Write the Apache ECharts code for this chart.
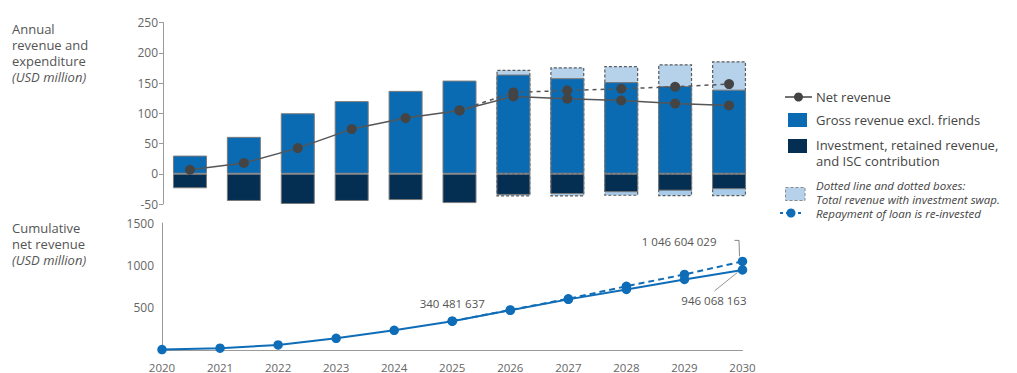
<!DOCTYPE html>
<html>
<head>
<meta charset="utf-8">
<script src="https://cdn.jsdelivr.net/npm/echarts@6/dist/echarts.min.js"></script>
<style>
  html, body { margin: 0; padding: 0; background: #ffffff; }
  #chart { width: 1017px; height: 373px; }
</style>
</head>
<body>
<div id="chart"></div>
<script>
// Years on both panels
const years = ['2020', '2021', '2022', '2023', '2024', '2025', '2026', '2027', '2028', '2029', '2030'];

// Annual panel (USD million)
const grossRevenue = [30, 61, 100, 120, 137, 154, 164, 158, 151.5, 145, 139];
const investment = [-24, -45, -50, -45, -43.5, -48.5, -35, -33.5, -30.5, -28, -25.5];
const swapRevenueTop = [null, null, null, null, null, null, 172, 176, 178, 181, 186];
const swapRevenueBottom = [null, null, null, null, null, null, -37.5, -37.5, -36.5, -37, -37];
const netRevenue = [6.6, 17.7, 42.4, 73.8, 92, 104.7, 127.8, 124, 121, 116, 112.9];
const netRevenueSwap = [null, null, null, null, null, 104.7, 134.4, 137.7, 140.5, 143.8, 148.2];

// Cumulative panel (USD million)
const cumulativeNet = [5, 22, 60, 138, 232, 340.481637, 469, 598, 715, 833, 946.068163];
const cumulativeNetSwap = [null, null, null, null, null, 340.481637, 473, 605, 753, 892, 1046.604029];

// Axis ticks
const annualTicks = { min: -50, max: 250, step: 50 };
const cumulativeTicks = { min: 0, max: 1500, step: 500 };

const FONT = 'Open Sans';
const BLUE = '#0b6bb2';
const NAVY = '#052f52';
const LIGHT = '#b5d2ea';
const LINE_BLUE = '#0f6db8';
const GREY_DOT = '#444444';
const TEXT = '#555555';

const chart = echarts.init(document.getElementById('chart'), null, { renderer: 'svg' });

// Format a value in millions as a full number with spaces between digit groups
function fullAmount(v) {
  return String(Math.round(v * 1e6)).replace(/\B(?=(\d{3})+(?!\d))/g, ' ');
}

const axisLabelStyle = { color: '#666666', fontFamily: FONT, fontSize: 12 };

chart.setOption({
  animation: false,
  textStyle: { fontFamily: FONT },
  grid: [
    { left: 163, right: 261, top: 22.5, bottom: 169, containLabel: false },
    { left: 162, right: 274.5, top: 223, bottom: 20, containLabel: false }
  ],
  xAxis: [
    {
      gridIndex: 0, type: 'category', data: years, boundaryGap: true,
      axisLine: { show: false }, axisTick: { show: false }, axisLabel: { show: false }, splitLine: { show: false }
    },
    {
      gridIndex: 1, type: 'category', data: years, boundaryGap: false,
      axisLine: { show: true, lineStyle: { color: '#9a9a9a', width: 1 } },
      axisTick: { show: false },
      axisLabel: { color: '#666666', fontFamily: FONT, fontSize: 11.5, margin: 11 },
      splitLine: { show: false }
    }
  ],
  yAxis: [
    {
      gridIndex: 0, type: 'value', min: annualTicks.min, max: annualTicks.max, interval: annualTicks.step,
      axisLine: { show: true, lineStyle: { color: '#9a9a9a', width: 1 } },
      axisTick: { show: true, length: 4, lineStyle: { color: '#9a9a9a' } },
      axisLabel: Object.assign({ margin: 5, formatter: v => String(v) }, axisLabelStyle),
      splitLine: { show: false }
    },
    {
      gridIndex: 1, type: 'value', min: cumulativeTicks.min, max: cumulativeTicks.max, interval: cumulativeTicks.step,
      axisLine: { show: true, lineStyle: { color: '#9a9a9a', width: 1 } },
      axisTick: { show: false },
      axisLabel: Object.assign({ margin: 8, showMinLabel: false, formatter: v => String(v) }, axisLabelStyle),
      splitLine: { show: false }
    }
  ],
  series: [
    {
      name: 'Total revenue with investment swap', type: 'bar', xAxisIndex: 0, yAxisIndex: 0,
      stack: 'swap', barWidth: 34, barGap: '-100%', data: swapRevenueTop,
      itemStyle: { color: LIGHT, borderColor: '#5c5c5c', borderWidth: 1.2, borderType: [3, 2] }
    },
    {
      name: 'Swap expenditure', type: 'bar', xAxisIndex: 0, yAxisIndex: 0,
      stack: 'swap', barWidth: 34, barGap: '-100%', data: swapRevenueBottom,
      itemStyle: { color: '#a7cbe8', borderColor: '#5c5c5c', borderWidth: 1.2, borderType: [3, 2] }
    },
    {
      name: 'Gross revenue excl. friends', type: 'bar', xAxisIndex: 0, yAxisIndex: 0,
      stack: 'base', barWidth: 34, barGap: '-100%', data: grossRevenue,
      itemStyle: { color: BLUE, borderColor: '#7a7a7a', borderWidth: 1 }
    },
    {
      name: 'Investment, retained revenue, and ISC contribution', type: 'bar', xAxisIndex: 0, yAxisIndex: 0,
      stack: 'base', barWidth: 34, barGap: '-100%', data: investment,
      itemStyle: { color: NAVY, borderColor: '#7a7a7a', borderWidth: 1 }
    },
    {
      name: 'Net revenue with swap', type: 'line', xAxisIndex: 0, yAxisIndex: 0, z: 5,
      data: netRevenueSwap, symbol: 'circle', symbolSize: 10, showSymbol: true,
      lineStyle: { color: '#555555', width: 1.5, type: [4, 4] },
      itemStyle: { color: GREY_DOT }
    },
    {
      name: 'Net revenue', type: 'line', xAxisIndex: 0, yAxisIndex: 0, z: 6,
      data: netRevenue, symbol: 'circle', symbolSize: 10,
      lineStyle: { color: '#555555', width: 1.5 },
      itemStyle: { color: GREY_DOT }
    },
    {
      name: 'Cumulative net revenue with swap', type: 'line', xAxisIndex: 1, yAxisIndex: 1, z: 5,
      data: cumulativeNetSwap, symbol: 'circle', symbolSize: 9.5,
      lineStyle: { color: LINE_BLUE, width: 2, type: [6, 4] },
      itemStyle: { color: LINE_BLUE }
    },
    {
      name: 'Cumulative net revenue', type: 'line', xAxisIndex: 1, yAxisIndex: 1, z: 6,
      data: cumulativeNet, symbol: 'circle', symbolSize: 9.5,
      lineStyle: { color: LINE_BLUE, width: 2 },
      itemStyle: { color: LINE_BLUE }
    }
  ]
});

// Callouts positioned from the plotted points
const last = years.length - 1;
const mid = 5;
const pSwapEnd = chart.convertToPixel({ xAxisIndex: 1, yAxisIndex: 1 }, [last, cumulativeNetSwap[last]]);
const pNetEnd = chart.convertToPixel({ xAxisIndex: 1, yAxisIndex: 1 }, [last, cumulativeNet[last]]);
const pMid = chart.convertToPixel({ xAxisIndex: 1, yAxisIndex: 1 }, [mid, cumulativeNet[mid]]);

function txt(x, y, text, opts) {
  return {
    type: 'text', x: x, y: y, silent: true,
    style: Object.assign({
      text: text, fill: TEXT, font: '13px "' + FONT + '"',
      textAlign: 'left', textVerticalAlign: 'middle'
    }, opts || {})
  };
}

const ITALIC13 = { font: 'italic 13px "' + FONT + '"' };
const ITALIC_NOTE = { font: 'italic 11.5px "' + FONT + '"', fill: '#444444' };
const DARK = { fill: '#444444' };

const graphics = [
  // Panel titles
  txt(12, 29, 'Annual'),
  txt(12, 45, 'revenue and'),
  txt(12, 61, 'expenditure'),
  txt(12, 77, '(USD million)', ITALIC13),
  txt(12, 227.5, 'Cumulative'),
  txt(12, 243.5, 'net revenue'),
  txt(12, 259.5, '(USD million)', ITALIC13),

  // Legend
  { type: 'line', silent: true, shape: { x1: 785, y1: 97, x2: 812, y2: 97 }, style: { stroke: '#444444', lineWidth: 1.5 } },
  { type: 'circle', silent: true, shape: { cx: 798.5, cy: 97, r: 4.5 }, style: { fill: GREY_DOT } },
  txt(816, 97, 'Net revenue', DARK),
  { type: 'rect', silent: true, shape: { x: 788, y: 113, width: 19, height: 14 }, style: { fill: BLUE } },
  txt(816, 120, 'Gross revenue excl. friends', DARK),
  { type: 'rect', silent: true, shape: { x: 788, y: 139, width: 19, height: 14 }, style: { fill: NAVY } },
  txt(816, 145, 'Investment, retained revenue,', DARK),
  txt(816, 161, 'and ISC contribution', DARK),
  { type: 'rect', silent: true, shape: { x: 785.5, y: 187.5, width: 19.5, height: 13 },
    style: { fill: LIGHT, stroke: '#8a8a8a', lineWidth: 1, lineDash: [3, 2] } },
  { type: 'line', silent: true, shape: { x1: 780, y1: 213, x2: 803, y2: 213 },
    style: { stroke: LINE_BLUE, lineWidth: 2, lineDash: [3, 3] } },
  { type: 'circle', silent: true, shape: { cx: 791, cy: 213, r: 4.5 }, style: { fill: LINE_BLUE } },
  txt(816, 185.5, 'Dotted line and dotted boxes:', ITALIC_NOTE),
  txt(816, 199.5, 'Total revenue with investment swap.', ITALIC_NOTE),
  txt(816, 213.5, 'Repayment of loan is re-invested', ITALIC_NOTE),

  // Cumulative callouts
  txt(pMid[0], pMid[1] - 17.5, fullAmount(cumulativeNet[mid]),
      { textAlign: 'center', font: '11.5px "' + FONT + '"' }),
  txt(pSwapEnd[0] - 26, pSwapEnd[1] - 20, fullAmount(cumulativeNetSwap[last]),
      { textAlign: 'right', font: '11.5px "' + FONT + '"' }),
  { type: 'polyline', silent: true,
    shape: { points: [[pSwapEnd[0] - 8, pSwapEnd[1] - 21], [pSwapEnd[0] - 3.5, pSwapEnd[1] - 21], [pSwapEnd[0] - 3, pSwapEnd[1] - 5]] },
    style: { stroke: '#666666', lineWidth: 0.8, fill: null } },
  txt(pNetEnd[0] + 4, pNetEnd[1] + 31, fullAmount(cumulativeNet[last]),
      { textAlign: 'right', font: '11.5px "' + FONT + '"' }),
  { type: 'line', silent: true,
    shape: { x1: pNetEnd[0] - 28, y1: pNetEnd[1] + 21, x2: pNetEnd[0] - 5, y2: pNetEnd[1] + 2.5 },
    style: { stroke: '#777777', lineWidth: 0.8 } }
];

chart.setOption({ graphic: graphics });
</script>
</body>
</html>
